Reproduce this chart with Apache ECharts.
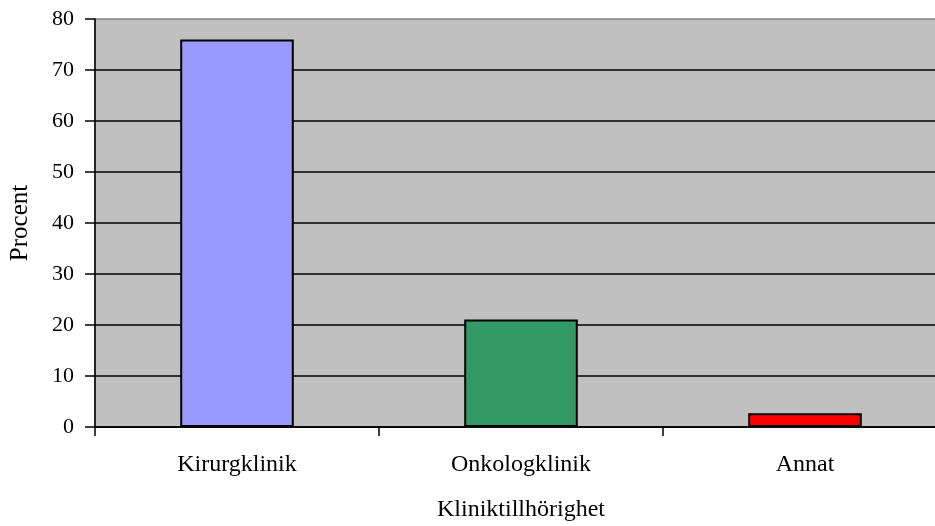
<!DOCTYPE html>
<html>
<head>
<meta charset="utf-8">
<script src="https://cdn.jsdelivr.net/npm/echarts@6/dist/echarts.min.js"></script>
<style>
  html, body { margin: 0; padding: 0; background: #fff; }
  #chart { width: 935px; height: 526px; }
</style>
</head>
<body>
<div id="chart"></div>
<script>
// Share of patients by clinic affiliation (percent)
const categories = ['Kirurgklinik', 'Onkologklinik', 'Annat'];
const values = [76.0, 21.1, 2.7];
const barColors = ['#9999ff', '#339966', '#ff0000'];
const yTicks = { min: 0, max: 80, interval: 10 };

const font = 'Liberation Serif, Times New Roman, serif';

const chart = echarts.init(document.getElementById('chart'), null, { renderer: 'canvas' });
chart.setOption({
  animation: false,
  grid: {
    left: 95, top: 19, right: -12, bottom: 99,
    outerBoundsMode: 'none',
    containLabel: false,
    show: true,
    backgroundColor: '#c0c0c0',
    borderColor: '#808080',
    borderWidth: 1.5
  },
  xAxis: {
    type: 'category',
    data: categories,
    name: 'Kliniktillhörighet',
    nameLocation: 'middle',
    nameGap: 71,
    nameTextStyle: { fontFamily: font, fontSize: 24, color: '#000' },
    axisLine: { lineStyle: { color: '#000', width: 1.5 } },
    axisTick: { show: true, length: 9, inside: false, lineStyle: { color: '#000', width: 1.5 } },
    axisLabel: { fontFamily: font, fontSize: 24, color: '#000', margin: 26 },
    splitLine: { show: false }
  },
  yAxis: {
    type: 'value',
    min: yTicks.min,
    max: yTicks.max,
    interval: yTicks.interval,
    name: 'Procent',
    nameLocation: 'middle',
    nameGap: 62,
    nameRotate: 90,
    nameTextStyle: { fontFamily: font, fontSize: 25, color: '#000' },
    axisLine: { show: true, lineStyle: { color: '#000', width: 1.5 } },
    axisTick: { show: true, length: 10, lineStyle: { color: '#000', width: 1.5 } },
    axisLabel: { fontFamily: font, fontSize: 22, color: '#000', margin: 21 },
    splitLine: { show: true, showMaxLine: false, lineStyle: { color: '#000', width: 1.5 } }
  },
  series: [{
    type: 'bar',
    data: values.map((v, i) => ({ value: v, itemStyle: { color: barColors[i] } })),
    barWidth: '40%',
    itemStyle: { borderColor: '#000', borderWidth: 2 }
  }]
});
</script>
</body>
</html>
